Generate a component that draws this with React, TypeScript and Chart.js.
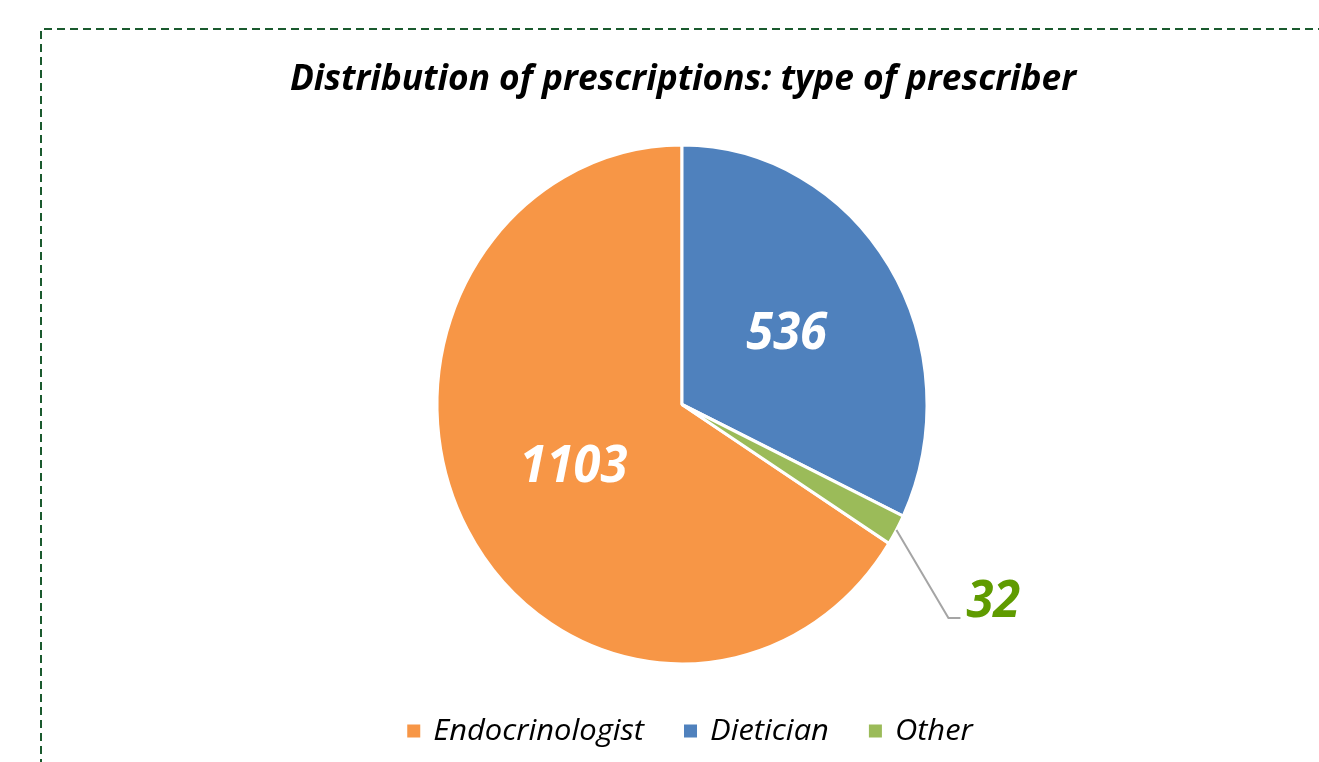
import React, { useEffect, useRef } from "react";
import { Chart, registerables } from "chart.js";

Chart.register(...registerables);

const categories = ["Endocrinologist", "Dietician", "Other"];
const values = [1103, 536, 32];
const colors = ["#F79646", "#4F81BD", "#9BBB59"];
const titleText = "Distribution of prescriptions: type of prescriber";

const W = 1319;
const H = 762;
const Y_STRETCH = 259.5 / 245;
const FONT = "'Open Sans', 'Liberation Sans', sans-serif";

function drawText(
  ctx: CanvasRenderingContext2D,
  text: string,
  x: number,
  y: number,
  font: string,
  color: string,
  align: "left" | "center",
  sx: number
): number {
  ctx.save();
  ctx.font = font;
  ctx.fillStyle = color;
  ctx.textBaseline = "middle";
  ctx.textAlign = "left";
  const w = ctx.measureText(text).width * sx;
  const left = align === "center" ? x - w / 2 : x;
  ctx.translate(left, y);
  ctx.scale(sx, 1);
  ctx.fillText(text, 0, 0);
  ctx.restore();
  return w;
}

const decorPlugin = {
  id: "decor",
  beforeDraw(chart: any) {
    const ctx = chart.ctx as CanvasRenderingContext2D;
    ctx.save();
    ctx.fillStyle = "#ffffff";
    ctx.fillRect(0, 0, W, H);
    ctx.setLineDash([8, 5]);
    ctx.strokeStyle = "#1a5a2e";
    ctx.lineWidth = 2;
    ctx.beginPath();
    ctx.moveTo(41, H + 5);
    ctx.lineTo(41, 29);
    ctx.lineTo(W + 5, 29);
    ctx.stroke();
    ctx.restore();
    drawText(ctx, titleText, 683, 80, `italic bold 36px ${FONT}`, "#000000", "center", 0.98);
  },
  beforeDatasetsDraw(chart: any) {
    const ctx = chart.ctx as CanvasRenderingContext2D;
    const a = chart.chartArea;
    const cx = (a.left + a.right) / 2;
    const cy = (a.top + a.bottom) / 2;
    ctx.save();
    ctx.translate(cx, cy);
    ctx.scale(1, Y_STRETCH);
    ctx.translate(-cx, -cy);
  },
  afterDatasetsDraw(chart: any) {
    chart.ctx.restore();
  },
  afterDraw(chart: any) {
    const ctx = chart.ctx as CanvasRenderingContext2D;
    const meta = chart.getDatasetMeta(0);
    const total = values.reduce((s, v) => s + v, 0);
    const labelFont = `italic bold 52px ${FONT}`;
    meta.data.forEach((arc: any, i: number) => {
      const p = arc.getProps(["x", "y", "startAngle", "endAngle", "outerRadius"], true);
      const mid = (p.startAngle + p.endAngle) / 2;
      const label = String(values[i]);
      if (values[i] / total > 0.05) {
        const r = p.outerRadius * 0.505;
        const px = p.x + Math.cos(mid) * r;
        const py = p.y + Math.sin(mid) * r * Y_STRETCH;
        drawText(ctx, label, px, py, labelFont, "#ffffff", "center", 0.94);
      } else {
        const ex = p.x + Math.cos(mid) * p.outerRadius;
        const ey = p.y + Math.sin(mid) * p.outerRadius * Y_STRETCH;
        const bx = ex + 52;
        const by = ey + 88;
        ctx.save();
        ctx.strokeStyle = "#a5a5a5";
        ctx.lineWidth = 2;
        ctx.beginPath();
        ctx.moveTo(ex, ey);
        ctx.lineTo(bx, by);
        ctx.lineTo(bx + 12, by);
        ctx.stroke();
        ctx.restore();
        drawText(ctx, label, bx + 18, by - 16, labelFont, "#5f9b00", "left", 0.94);
      }
    });

    // legend
    const font = `italic 30px ${FONT}`;
    const sx = 1.03;
    const box = 13;
    const gapBoxText = 13;
    const gapItems = 40;
    ctx.save();
    ctx.font = font;
    const widths = categories.map((c) => ctx.measureText(c).width * sx);
    ctx.restore();
    const totalW =
      widths.reduce((s, w) => s + w + box + gapBoxText, 0) + gapItems * (categories.length - 1);
    let x = 690 - totalW / 2;
    const ly = 731;
    categories.forEach((c, i) => {
      ctx.fillStyle = colors[i];
      ctx.fillRect(x, ly - box / 2, box, box);
      x += box + gapBoxText;
      drawText(ctx, c, x, ly, font, "#000000", "left", sx);
      x += widths[i] + gapItems;
    });
  },
};

export default function App() {
  const ref = useRef<HTMLCanvasElement | null>(null);
  useEffect(() => {
    if (!ref.current) return;
    const total = values.reduce((s, v) => s + v, 0);
    const chart = new Chart(ref.current, {
      type: "pie",
      data: {
        labels: categories,
        datasets: [
          {
            data: values,
            backgroundColor: colors,
            borderColor: "#ffffff",
            borderWidth: 3,
          },
        ],
      },
      options: {
        responsive: false,
        animation: false,
        rotation: 360 - (values[0] / total) * 360,
        layout: { padding: { left: 435.5, right: 390.5, top: 158, bottom: 111 } },
        plugins: {
          legend: { display: false },
          title: { display: false },
          tooltip: { enabled: false },
        },
      },
      plugins: [decorPlugin],
    });
    return () => chart.destroy();
  }, []);
  return (
    <div style={{ position: "absolute", left: 0, top: 0, width: W, height: H }}>
      <canvas ref={ref} width={W} height={H} style={{ display: "block" }} />
    </div>
  );
}
